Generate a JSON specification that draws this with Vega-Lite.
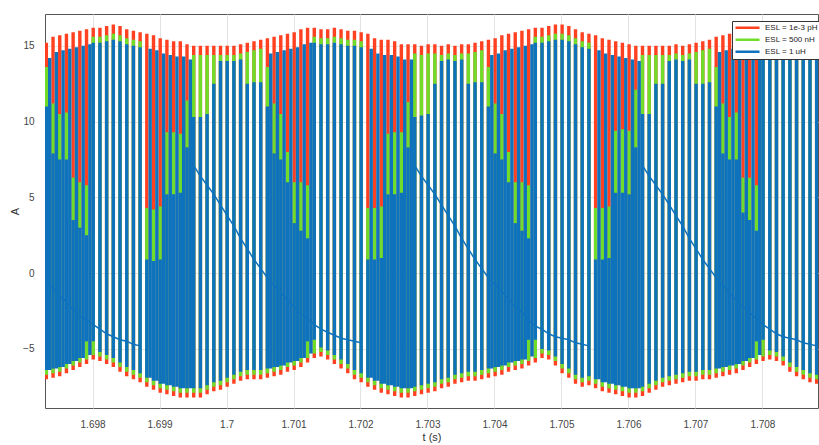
{
"$schema":"https://vega.github.io/schema/vega-lite/v6.json",
"width":773,"height":394,
"autosize":{"type":"none"},
"padding":{"left":45,"top":14,"right":1,"bottom":37},
"background":"white",
"config":{"view":{"stroke":"#555","strokeWidth":1},"font":"Liberation Sans",
"axis":{"labelFont":"Liberation Sans","labelFontSize":10,"labelColor":"#444","titleFont":"Liberation Sans","titleFontSize":11,"titleFontWeight":"normal","titleColor":"#333","gridColor":"#e3e3e3","domain":false,"ticks":false}},
"data":{"values":[
{"t":1.69731,"s":0,"y":-0.6,"r0":-7.0,"r1":15.2,"g0":-6.7,"g1":13.6,"b0":-6.4,"b1":11.0},{"t":1.69736,"b0":-6.4,"b1":14.2},
{"t":1.69741,"s":0,"y":-1.0,"r0":-6.9,"r1":15.6,"g0":-6.6,"g1":11.2,"b0":-6.3,"b1":7.9},{"t":1.69746,"b0":-6.3,"b1":14.6},
{"t":1.69751,"s":0,"y":-1.5,"r0":-6.8,"r1":15.7,"g0":-6.5,"g1":10.5,"b0":-6.2,"b1":7.5},{"t":1.69756,"b0":-6.2,"b1":14.7},
{"t":1.69761,"s":0,"y":-1.9,"r0":-6.6,"r1":15.8,"g0":-6.3,"g1":10.6,"b0":-6.0,"b1":7.5},{"t":1.69766,"b0":-6.0,"b1":14.8},
{"t":1.69771,"s":0,"y":-2.4,"r0":-6.4,"r1":15.9,"g0":-6.1,"g1":6.3,"b0":-5.8,"b1":3.5},{"t":1.69776,"b0":-5.8,"b1":14.9},
{"t":1.69781,"s":0,"y":-2.8,"r0":-6.2,"r1":16.0,"g0":-5.9,"g1":6.0,"b0":-5.6,"b1":3.0},{"t":1.69786,"b0":-5.6,"b1":15.0},
{"t":1.69791,"s":0,"y":-3.1,"r0":-6.0,"r1":16.1,"g0":-5.7,"g1":5.8,"b0":-4.5,"b1":2.5},{"t":1.69796,"b0":-5.4,"b1":15.1},
{"t":1.69801,"s":0,"y":-3.4,"r0":-5.7,"r1":16.2,"g0":-5.4,"g1":15.6,"b0":-4.5,"b1":15.2},
{"t":1.69811,"s":0,"y":-3.7,"r0":-5.8,"r1":16.2,"g0":-5.5,"g1":15.6,"b0":-5.2,"b1":15.2},
{"t":1.69821,"s":0,"y":-4.0,"r0":-6.0,"r1":16.3,"g0":-5.7,"g1":15.7,"b0":-5.4,"b1":15.3},
{"t":1.69831,"s":0,"y":-4.2,"r0":-6.2,"r1":16.4,"g0":-5.9,"g1":15.8,"b0":-5.6,"b1":15.4},
{"t":1.69841,"s":0,"y":-4.4,"r0":-6.5,"r1":16.3,"g0":-6.2,"g1":15.7,"b0":-5.9,"b1":15.3},
{"t":1.69851,"s":0,"y":-4.5,"r0":-6.8,"r1":16.1,"g0":-6.5,"g1":15.5,"b0":-6.2,"b1":15.1},
{"t":1.69861,"s":0,"y":-4.7,"r0":-7.0,"r1":16.0,"g0":-6.7,"g1":15.4,"b0":-6.4,"b1":15.0},
{"t":1.69871,"s":0,"y":-4.8,"r0":-7.2,"r1":15.9,"g0":-6.9,"g1":15.3,"b0":-6.6,"b1":14.9},
{"t":1.69881,"r0":-7.5,"r1":15.8,"g0":-7.2,"g1":4.3,"b0":-6.9,"b1":0.9},{"t":1.69886,"b0":-6.9,"b1":14.8},
{"t":1.69891,"r0":-7.7,"r1":15.7,"g0":-7.4,"g1":4.2,"b0":-7.1,"b1":0.8},{"t":1.69896,"b0":-7.1,"b1":14.7},
{"t":1.69901,"r0":-7.9,"r1":15.5,"g0":-7.6,"g1":4.4,"b0":-7.3,"b1":0.9},{"t":1.69906,"b0":-7.3,"b1":14.5},
{"t":1.69911,"r0":-8.0,"r1":15.4,"g0":-7.7,"g1":9.3,"b0":-7.4,"b1":5.2},{"t":1.69916,"b0":-7.4,"b1":14.4},
{"t":1.69921,"r0":-8.1,"r1":15.3,"g0":-7.8,"g1":9.3,"b0":-7.5,"b1":5.2},{"t":1.69926,"b0":-7.5,"b1":14.3},
{"t":1.69931,"r0":-8.2,"r1":15.3,"g0":-7.9,"g1":9.2,"b0":-7.6,"b1":5.3},{"t":1.69936,"b0":-7.6,"b1":14.3},
{"t":1.69941,"r0":-8.2,"r1":15.1,"g0":-7.9,"g1":11.4,"b0":-7.6,"b1":8.3},{"t":1.69946,"b0":-7.6,"b1":14.1},
{"t":1.69951,"s":1,"y":7.1,"r0":-8.2,"r1":15.0,"g0":-7.9,"g1":14.4,"b0":-7.6,"b1":10.3},
{"t":1.69961,"s":1,"y":6.4,"r0":-8.2,"r1":15.0,"g0":-7.9,"g1":14.4,"b0":-7.6,"b1":10.3},
{"t":1.69971,"s":1,"y":5.8,"r0":-8.0,"r1":15.0,"g0":-7.7,"g1":14.4,"b0":-7.4,"b1":10.5},
{"t":1.69981,"s":1,"y":5.2,"r0":-7.8,"r1":15.0,"g0":-7.5,"g1":14.4,"b0":-7.2,"b1":12.5},
{"t":1.69991,"s":1,"y":4.5,"r0":-7.7,"r1":15.0,"g0":-7.4,"g1":14.4,"b0":-7.1,"b1":14.0},
{"t":1.70001,"s":1,"y":3.8,"r0":-7.5,"r1":15.0,"g0":-7.2,"g1":14.4,"b0":-6.9,"b1":14.0},
{"t":1.70011,"s":1,"y":3.1,"r0":-7.3,"r1":15.0,"g0":-7.0,"g1":14.4,"b0":-6.7,"b1":14.0},
{"t":1.70021,"s":1,"y":2.3,"r0":-7.1,"r1":15.1,"g0":-6.8,"g1":14.5,"b0":-6.5,"b1":14.1},
{"t":1.70031,"s":1,"y":1.6,"r0":-7.0,"r1":15.2,"g0":-6.7,"g1":14.6,"b0":-6.4,"b1":12.5},
{"t":1.70041,"s":1,"y":0.9,"r0":-7.0,"r1":15.3,"g0":-6.7,"g1":14.7,"b0":-6.4,"b1":12.6},
{"t":1.70051,"s":1,"y":0.3,"r0":-7.0,"r1":15.4,"g0":-6.7,"g1":14.8,"b0":-6.4,"b1":12.6},
{"t":1.70061,"s":1,"y":-0.3,"r0":-6.9,"r1":15.5,"g0":-6.6,"g1":13.6,"b0":-6.3,"b1":11.0},{"t":1.70066,"b0":-6.3,"b1":14.5},
{"t":1.70071,"s":1,"y":-0.8,"r0":-6.8,"r1":15.6,"g0":-6.5,"g1":11.2,"b0":-6.2,"b1":7.9},{"t":1.70076,"b0":-6.2,"b1":14.6},
{"t":1.70081,"s":1,"y":-1.3,"r0":-6.7,"r1":15.7,"g0":-6.4,"g1":10.5,"b0":-6.1,"b1":7.5},{"t":1.70086,"b0":-6.1,"b1":14.7},
{"t":1.70091,"s":1,"y":-1.8,"r0":-6.5,"r1":15.8,"g0":-6.2,"g1":8.0,"b0":-5.9,"b1":6.0},{"t":1.70096,"b0":-5.9,"b1":14.8},
{"t":1.70101,"s":1,"y":-2.2,"r0":-6.4,"r1":15.9,"g0":-6.1,"g1":6.0,"b0":-5.8,"b1":3.3},{"t":1.70106,"b0":-5.8,"b1":14.9},
{"t":1.70111,"s":1,"y":-2.7,"r0":-6.2,"r1":16.1,"g0":-5.9,"g1":6.0,"b0":-5.6,"b1":2.8},{"t":1.70116,"b0":-5.6,"b1":15.1},
{"t":1.70121,"s":1,"y":-3.0,"r0":-5.9,"r1":16.2,"g0":-5.6,"g1":5.8,"b0":-4.5,"b1":2.3},{"t":1.70126,"b0":-5.3,"b1":15.2},
{"t":1.70131,"s":1,"y":-3.4,"r0":-5.6,"r1":16.2,"g0":-5.3,"g1":15.6,"b0":-4.4,"b1":15.2},
{"t":1.70141,"s":1,"y":-3.7,"r0":-5.5,"r1":16.1,"g0":-5.2,"g1":15.5,"b0":-4.9,"b1":15.1},
{"t":1.70151,"s":1,"y":-3.9,"r0":-5.7,"r1":16.1,"g0":-5.4,"g1":15.5,"b0":-5.1,"b1":15.1},
{"t":1.70161,"s":1,"y":-4.1,"r0":-6.0,"r1":16.2,"g0":-5.7,"g1":15.6,"b0":-5.4,"b1":15.2},
{"t":1.70171,"s":1,"y":-4.3,"r0":-6.3,"r1":16.1,"g0":-6.0,"g1":15.5,"b0":-5.7,"b1":15.1},
{"t":1.70181,"s":1,"y":-4.4,"r0":-6.6,"r1":16.0,"g0":-6.3,"g1":15.4,"b0":-6.0,"b1":15.0},
{"t":1.70191,"s":1,"y":-4.5,"r0":-7.0,"r1":16.0,"g0":-6.7,"g1":15.4,"b0":-6.4,"b1":15.0},
{"t":1.70201,"s":1,"y":-4.6,"r0":-7.2,"r1":15.9,"g0":-6.9,"g1":15.3,"b0":-6.6,"b1":14.9},
{"t":1.70211,"r0":-7.5,"r1":15.8,"g0":-7.2,"g1":4.3,"b0":-6.9,"b1":0.9},{"t":1.70216,"b0":-6.9,"b1":14.8},
{"t":1.70221,"r0":-7.7,"r1":15.5,"g0":-7.4,"g1":4.3,"b0":-7.1,"b1":0.9},{"t":1.70226,"b0":-7.1,"b1":14.5},
{"t":1.70231,"r0":-7.9,"r1":15.4,"g0":-7.6,"g1":4.4,"b0":-7.3,"b1":1.0},{"t":1.70236,"b0":-7.3,"b1":14.4},
{"t":1.70241,"r0":-8.0,"r1":15.4,"g0":-7.7,"g1":9.2,"b0":-7.4,"b1":5.2},{"t":1.70246,"b0":-7.4,"b1":14.4},
{"t":1.70251,"r0":-8.1,"r1":15.3,"g0":-7.8,"g1":9.3,"b0":-7.5,"b1":5.2},{"t":1.70256,"b0":-7.5,"b1":14.3},
{"t":1.70261,"r0":-8.2,"r1":15.1,"g0":-7.9,"g1":9.3,"b0":-7.6,"b1":5.3},{"t":1.70266,"b0":-7.6,"b1":14.1},
{"t":1.70271,"r0":-8.2,"r1":15.1,"g0":-7.9,"g1":11.3,"b0":-7.6,"b1":8.3},{"t":1.70276,"b0":-7.6,"b1":14.1},
{"t":1.70281,"s":2,"y":7.1,"r0":-8.1,"r1":15.1,"g0":-7.8,"g1":14.5,"b0":-7.5,"b1":10.3},
{"t":1.70291,"s":2,"y":6.4,"r0":-8.0,"r1":15.0,"g0":-7.7,"g1":14.4,"b0":-7.4,"b1":10.4},
{"t":1.70301,"s":2,"y":5.8,"r0":-7.9,"r1":15.1,"g0":-7.6,"g1":14.5,"b0":-7.3,"b1":10.5},
{"t":1.70311,"s":2,"y":5.2,"r0":-7.8,"r1":15.1,"g0":-7.5,"g1":14.5,"b0":-7.2,"b1":12.5},
{"t":1.70321,"s":2,"y":4.5,"r0":-7.6,"r1":15.0,"g0":-7.3,"g1":14.4,"b0":-7.0,"b1":14.0},
{"t":1.70331,"s":2,"y":3.8,"r0":-7.5,"r1":15.1,"g0":-7.2,"g1":14.5,"b0":-6.9,"b1":14.1},
{"t":1.70341,"s":2,"y":3.1,"r0":-7.3,"r1":15.0,"g0":-7.0,"g1":14.4,"b0":-6.7,"b1":14.0},
{"t":1.70351,"s":2,"y":2.3,"r0":-7.2,"r1":15.1,"g0":-6.9,"g1":14.5,"b0":-6.6,"b1":14.1},
{"t":1.70361,"s":2,"y":1.6,"r0":-7.1,"r1":15.1,"g0":-6.8,"g1":14.5,"b0":-6.5,"b1":12.5},
{"t":1.70371,"s":2,"y":0.9,"r0":-7.1,"r1":15.2,"g0":-6.8,"g1":14.6,"b0":-6.5,"b1":12.6},
{"t":1.70381,"s":2,"y":0.3,"r0":-7.0,"r1":15.3,"g0":-6.7,"g1":14.7,"b0":-6.4,"b1":12.6},
{"t":1.70391,"s":2,"y":-0.3,"r0":-6.9,"r1":15.4,"g0":-6.6,"g1":13.6,"b0":-6.3,"b1":11.0},{"t":1.70396,"b0":-6.3,"b1":14.4},
{"t":1.70401,"s":2,"y":-0.8,"r0":-6.8,"r1":15.5,"g0":-6.5,"g1":11.2,"b0":-6.2,"b1":7.9},{"t":1.70406,"b0":-6.2,"b1":14.5},
{"t":1.70411,"s":2,"y":-1.2,"r0":-6.7,"r1":15.7,"g0":-6.4,"g1":10.5,"b0":-6.1,"b1":7.5},{"t":1.70416,"b0":-6.1,"b1":14.7},
{"t":1.70421,"s":2,"y":-1.7,"r0":-6.5,"r1":15.8,"g0":-6.2,"g1":8.0,"b0":-5.9,"b1":6.0},{"t":1.70426,"b0":-5.9,"b1":14.8},
{"t":1.70431,"s":2,"y":-2.2,"r0":-6.4,"r1":15.9,"g0":-6.1,"g1":6.0,"b0":-5.8,"b1":3.3},{"t":1.70436,"b0":-5.8,"b1":14.9},
{"t":1.70441,"s":2,"y":-2.6,"r0":-6.3,"r1":16.0,"g0":-6.0,"g1":6.0,"b0":-5.7,"b1":2.8},{"t":1.70446,"b0":-5.7,"b1":15.0},
{"t":1.70451,"s":2,"y":-3.1,"r0":-6.1,"r1":16.1,"g0":-5.8,"g1":5.8,"b0":-4.4,"b1":2.3},{"t":1.70456,"b0":-5.5,"b1":15.1},
{"t":1.70461,"s":2,"y":-3.5,"r0":-5.9,"r1":16.2,"g0":-5.6,"g1":15.6,"b0":-4.4,"b1":15.2},
{"t":1.70471,"s":2,"y":-3.7,"r0":-5.6,"r1":16.2,"g0":-5.3,"g1":15.6,"b0":-5.0,"b1":15.2},
{"t":1.70481,"s":2,"y":-4.0,"r0":-5.7,"r1":16.3,"g0":-5.4,"g1":15.7,"b0":-5.1,"b1":15.3},
{"t":1.70491,"s":2,"y":-4.2,"r0":-6.1,"r1":16.4,"g0":-5.8,"g1":15.8,"b0":-5.5,"b1":15.4},
{"t":1.70501,"s":2,"y":-4.3,"r0":-6.6,"r1":16.4,"g0":-6.3,"g1":15.8,"b0":-6.0,"b1":15.4},
{"t":1.70511,"s":2,"y":-4.4,"r0":-6.9,"r1":16.3,"g0":-6.6,"g1":15.7,"b0":-6.3,"b1":15.3},
{"t":1.70521,"s":2,"y":-4.6,"r0":-7.3,"r1":16.1,"g0":-7.0,"g1":15.5,"b0":-6.7,"b1":15.1},
{"t":1.70531,"s":2,"y":-4.7,"r0":-7.5,"r1":15.9,"g0":-7.2,"g1":15.3,"b0":-6.9,"b1":14.9},
{"t":1.70541,"s":2,"y":-4.8,"r0":-7.4,"r1":15.8,"g0":-7.1,"g1":15.2,"b0":-6.8,"b1":14.8},
{"t":1.70551,"r0":-7.6,"r1":15.7,"g0":-7.3,"g1":4.3,"b0":-7.0,"b1":0.9},{"t":1.70556,"b0":-7.0,"b1":14.7},
{"t":1.70561,"r0":-7.8,"r1":15.5,"g0":-7.5,"g1":4.3,"b0":-7.2,"b1":0.9},{"t":1.70566,"b0":-7.2,"b1":14.5},
{"t":1.70571,"r0":-7.9,"r1":15.4,"g0":-7.6,"g1":4.4,"b0":-7.3,"b1":1.0},{"t":1.70576,"b0":-7.3,"b1":14.4},
{"t":1.70581,"r0":-8.0,"r1":15.3,"g0":-7.7,"g1":9.4,"b0":-7.4,"b1":5.3},{"t":1.70586,"b0":-7.4,"b1":14.3},
{"t":1.70591,"r0":-8.1,"r1":15.2,"g0":-7.8,"g1":9.5,"b0":-7.5,"b1":5.3},{"t":1.70596,"b0":-7.5,"b1":14.2},
{"t":1.70601,"r0":-8.2,"r1":15.1,"g0":-7.9,"g1":9.4,"b0":-7.6,"b1":5.2},{"t":1.70606,"b0":-7.6,"b1":14.1},
{"t":1.70611,"r0":-8.2,"r1":15.0,"g0":-7.9,"g1":12.1,"b0":-7.6,"b1":8.3},{"t":1.70616,"b0":-7.6,"b1":14.0},
{"t":1.70621,"s":3,"y":7.1,"r0":-8.1,"r1":15.0,"g0":-7.8,"g1":14.4,"b0":-7.5,"b1":10.5},
{"t":1.70631,"s":3,"y":6.4,"r0":-7.9,"r1":15.0,"g0":-7.6,"g1":14.4,"b0":-7.3,"b1":10.5},
{"t":1.70641,"s":3,"y":5.8,"r0":-7.7,"r1":15.0,"g0":-7.4,"g1":14.4,"b0":-7.1,"b1":12.5},
{"t":1.70651,"s":3,"y":5.2,"r0":-7.5,"r1":15.0,"g0":-7.2,"g1":14.4,"b0":-6.9,"b1":12.5},
{"t":1.70661,"s":3,"y":4.5,"r0":-7.4,"r1":15.0,"g0":-7.1,"g1":14.4,"b0":-6.8,"b1":14.0},
{"t":1.70671,"s":3,"y":3.8,"r0":-7.3,"r1":15.1,"g0":-7.0,"g1":14.5,"b0":-6.7,"b1":14.1},
{"t":1.70681,"s":3,"y":3.1,"r0":-7.2,"r1":15.0,"g0":-6.9,"g1":14.4,"b0":-6.6,"b1":14.0},
{"t":1.70691,"s":3,"y":2.3,"r0":-7.1,"r1":15.1,"g0":-6.8,"g1":14.5,"b0":-6.5,"b1":14.1},
{"t":1.70701,"s":3,"y":1.6,"r0":-7.1,"r1":15.2,"g0":-6.8,"g1":14.6,"b0":-6.5,"b1":12.5},
{"t":1.70711,"s":3,"y":0.9,"r0":-7.0,"r1":15.3,"g0":-6.7,"g1":14.7,"b0":-6.4,"b1":12.5},
{"t":1.70721,"s":3,"y":0.3,"r0":-7.0,"r1":15.4,"g0":-6.7,"g1":14.8,"b0":-6.4,"b1":12.6},
{"t":1.70731,"s":3,"y":-0.3,"r0":-6.9,"r1":15.6,"g0":-6.6,"g1":13.6,"b0":-6.3,"b1":11.0},{"t":1.70736,"b0":-6.3,"b1":14.6},
{"t":1.70741,"s":3,"y":-0.8,"r0":-6.8,"r1":15.7,"g0":-6.5,"g1":11.2,"b0":-6.2,"b1":7.9},{"t":1.70746,"b0":-6.2,"b1":14.7},
{"t":1.70751,"s":3,"y":-1.3,"r0":-6.7,"r1":15.8,"g0":-6.4,"g1":10.3,"b0":-6.1,"b1":7.5},{"t":1.70756,"b0":-6.1,"b1":14.8},
{"t":1.70761,"s":3,"y":-1.8,"r0":-6.6,"r1":15.9,"g0":-6.3,"g1":10.6,"b0":-6.0,"b1":7.5},{"t":1.70766,"b0":-6.0,"b1":14.9},
{"t":1.70771,"s":3,"y":-2.2,"r0":-6.4,"r1":16.0,"g0":-6.1,"g1":6.3,"b0":-5.8,"b1":4.0},{"t":1.70776,"b0":-5.8,"b1":15.0},
{"t":1.70781,"s":3,"y":-2.6,"r0":-6.2,"r1":16.2,"g0":-5.9,"g1":6.3,"b0":-5.6,"b1":3.5},{"t":1.70786,"b0":-5.6,"b1":15.2},
{"t":1.70791,"s":3,"y":-3.0,"r0":-6.0,"r1":16.3,"g0":-5.7,"g1":5.8,"b0":-4.5,"b1":2.8},{"t":1.70796,"b0":-5.4,"b1":15.3},
{"t":1.70801,"s":3,"y":-3.4,"r0":-5.8,"r1":16.4,"g0":-5.5,"g1":15.8,"b0":-4.4,"b1":15.4},
{"t":1.70811,"s":3,"y":-3.7,"r0":-5.7,"r1":16.5,"g0":-5.4,"g1":15.9,"b0":-5.1,"b1":15.5},
{"t":1.70821,"s":3,"y":-4.0,"r0":-5.8,"r1":16.5,"g0":-5.5,"g1":15.9,"b0":-5.2,"b1":15.5},
{"t":1.70831,"s":3,"y":-4.2,"r0":-6.1,"r1":16.6,"g0":-5.8,"g1":16.0,"b0":-5.5,"b1":15.6},
{"t":1.70841,"s":3,"y":-4.3,"r0":-6.5,"r1":16.5,"g0":-6.2,"g1":15.9,"b0":-5.9,"b1":15.5},
{"t":1.70851,"s":3,"y":-4.4,"r0":-6.8,"r1":16.4,"g0":-6.5,"g1":15.8,"b0":-6.2,"b1":15.4},
{"t":1.70861,"s":3,"y":-4.6,"r0":-7.0,"r1":16.3,"g0":-6.7,"g1":15.7,"b0":-6.4,"b1":15.3},
{"t":1.70871,"s":3,"y":-4.7,"r0":-7.2,"r1":16.1,"g0":-6.9,"g1":15.5,"b0":-6.6,"b1":15.1},
{"t":1.70881,"s":3,"y":-4.8,"r0":-7.3,"r1":16.0,"g0":-7.0,"g1":15.4,"b0":-6.7,"b1":15.0}
]},
"layer":[
{"mark":{"type":"rule","strokeWidth":3.4,"clip":true},
"encoding":{
"x":{"field":"t","type":"quantitative","scale":{"domain":[1.69729,1.70883],"nice":false,"zero":false},
"axis":{"values":[1.698,1.699,1.7,1.701,1.702,1.703,1.704,1.705,1.706,1.707,1.708],"format":".4~r","title":"t (s)","labelPadding":11,"titlePadding":2,"grid":true}},
"y":{"field":"r0","type":"quantitative","scale":{"domain":[-8.9,17.1],"nice":false,"zero":false},
"axis":{"values":[-5,0,5,10,15],"title":"A","labelPadding":11,"titlePadding":2,"grid":true}},
"y2":{"field":"r1"},
"color":{"datum":"ESL = 1e-3 pH","type":"nominal","scale":{"domain":["ESL = 1e-3 pH","ESL = 500 nH","ESL = 1 uH"],"range":["#FF4122","#6FDD2A","#0E72BD"]},
"legend":{"title":null,"orient":"none","legendX":687,"legendY":7,"symbolType":"stroke","symbolSize":576,"symbolStrokeWidth":2.5,"labelFont":"Liberation Sans","labelFontSize":8,"labelColor":"#222","labelOffset":4,"clipHeight":9.3,"rowPadding":2,"padding":2,"fillColor":"white","strokeColor":"#333"}}}},
{"mark":{"type":"rule","strokeWidth":3.4,"clip":true},
"encoding":{"x":{"field":"t","type":"quantitative"},"y":{"field":"g0","type":"quantitative"},"y2":{"field":"g1"},"color":{"datum":"ESL = 500 nH","type":"nominal"}}},
{"mark":{"type":"line","strokeWidth":1.5,"clip":true},
"encoding":{"x":{"field":"t","type":"quantitative"},"y":{"field":"y","type":"quantitative"},"detail":{"field":"s","type":"nominal"},"color":{"datum":"ESL = 1 uH","type":"nominal"}}},
{"mark":{"type":"rule","strokeWidth":3.4,"clip":true},
"encoding":{"x":{"field":"t","type":"quantitative"},"y":{"field":"b0","type":"quantitative"},"y2":{"field":"b1"},"color":{"datum":"ESL = 1 uH","type":"nominal"}}}
]
}
